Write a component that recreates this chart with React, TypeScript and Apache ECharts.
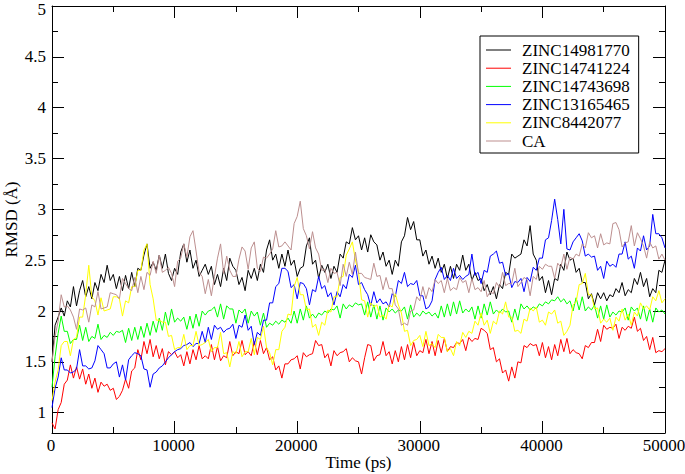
import React, { useEffect, useRef } from "react";
import * as echarts from "echarts";

const T_MAX = 50000;
const X_INTERVAL = 10000;
const Y_MIN = 0.8;
const Y_MAX = 5;
const Y_MAJOR = [1, 1.5, 2, 2.5, 3, 3.5, 4, 4.5, 5];
const Y_MINOR = [1.25, 1.75, 2.25, 2.75, 3.25, 3.75, 4.25, 4.75];

const SERIES_NAMES = ["ZINC14981770", "ZINC14741224", "ZINC14743698", "ZINC13165465", "ZINC8442077", "CA"];
const SERIES_COLORS = ["#000000", "#ff0000", "#00ff00", "#0000ff", "#ffff00", "#bc8f8f"];

// RMSD values sampled every 250 ps from 0 to 50000 ps
const zinc14981770 = [
  1.5,1.86,1.94,2.03,1.95,2.1,2.04,2.24,2.05,2.2,
  2.3,2.14,2.24,2.12,2.28,2.2,2.36,2.28,2.45,2.3,
  2.36,2.22,2.34,2.2,2.35,2.22,2.38,2.24,2.42,2.4,
  2.55,2.66,2.42,2.48,2.4,2.55,2.42,2.56,2.37,2.3,
  2.42,2.36,2.58,2.66,2.48,2.6,2.42,2.5,2.34,2.4,
  2.46,2.36,2.44,2.26,2.36,2.24,2.42,2.3,2.52,2.44,
  2.4,2.26,2.33,2.2,2.4,2.32,2.42,2.3,2.46,2.38,
  2.6,2.7,2.5,2.56,2.42,2.56,2.44,2.6,2.45,2.5,
  2.34,2.42,2.44,2.64,2.72,2.46,2.5,2.32,2.45,2.38,
  2.46,2.32,2.44,2.38,2.56,2.52,2.68,2.66,2.82,2.7,
  2.74,2.6,2.72,2.58,2.75,2.68,2.65,2.5,2.58,2.44,
  2.5,2.36,2.5,2.44,2.68,2.74,2.92,2.8,2.88,2.7,
  2.7,2.54,2.6,2.46,2.54,2.42,2.52,2.38,2.46,2.32,
  2.44,2.32,2.46,2.4,2.55,2.4,2.46,2.3,2.38,2.3,
  2.32,2.2,2.26,2.16,2.24,2.12,2.26,2.22,2.38,2.36,
  2.56,2.52,2.54,2.56,2.7,2.64,2.84,2.56,2.5,2.3,
  2.34,2.18,2.3,2.16,2.32,2.3,2.46,2.4,2.58,2.5,
  2.52,2.38,2.42,2.28,2.28,2.12,2.17,2.06,2.18,2.12,
  2.18,2.1,2.16,2.14,2.22,2.18,2.28,2.15,2.21,2.18,
  2.32,2.26,2.38,2.24,2.32,2.14,2.22,2.18,2.4,2.38,
  2.5,
];

const zinc14741224 = [
  0.9,0.84,1.03,1.1,1.28,1.32,1.47,1.34,1.45,1.33,
  1.43,1.28,1.38,1.24,1.34,1.2,1.3,1.26,1.28,1.22,
  1.24,1.13,1.16,1.22,1.33,1.24,1.41,1.44,1.62,1.52,
  1.7,1.58,1.72,1.55,1.66,1.53,1.63,1.47,1.6,1.57,
  1.6,1.54,1.57,1.46,1.6,1.48,1.62,1.52,1.66,1.53,
  1.56,1.53,1.67,1.52,1.65,1.51,1.56,1.54,1.7,1.56,
  1.6,1.58,1.71,1.57,1.6,1.56,1.7,1.57,1.71,1.58,
  1.64,1.52,1.55,1.42,1.46,1.34,1.48,1.48,1.52,1.53,
  1.56,1.43,1.59,1.55,1.57,1.58,1.71,1.66,1.67,1.54,
  1.58,1.46,1.61,1.56,1.59,1.6,1.63,1.5,1.54,1.51,
  1.5,1.38,1.54,1.67,1.66,1.51,1.56,1.57,1.7,1.56,
  1.6,1.48,1.61,1.5,1.65,1.52,1.67,1.54,1.69,1.56,
  1.61,1.59,1.72,1.58,1.7,1.56,1.71,1.59,1.73,1.6,
  1.65,1.64,1.69,1.68,1.72,1.61,1.74,1.7,1.73,1.72,
  1.83,1.81,1.78,1.62,1.64,1.5,1.53,1.39,1.42,1.31,
  1.45,1.34,1.5,1.49,1.66,1.64,1.68,1.66,1.67,1.56,
  1.69,1.54,1.65,1.52,1.67,1.56,1.72,1.6,1.73,1.58,
  1.62,1.59,1.58,1.53,1.66,1.64,1.69,1.69,1.82,1.7,
  1.86,1.82,1.84,1.83,1.87,1.73,1.84,1.81,1.85,1.83,
  1.94,1.8,1.83,1.71,1.75,1.62,1.74,1.59,1.61,1.6,
  1.63,
];

const zinc14743698 = [
  1.25,1.55,1.78,1.95,1.8,1.8,1.68,1.72,1.72,1.86,
  1.71,1.84,1.7,1.75,1.73,1.87,1.72,1.76,1.74,1.79,
  1.76,1.8,1.79,1.81,1.69,1.83,1.71,1.84,1.72,1.85,
  1.74,1.88,1.76,1.9,1.79,1.93,1.81,1.99,1.86,2.02,
  1.89,1.93,1.9,1.94,1.82,1.95,1.83,1.97,1.85,2.0,
  1.96,2.0,2.01,2.04,1.94,2.07,1.92,2.05,2.02,2.02,
  1.88,2.01,1.98,2.02,1.88,2.0,1.95,1.99,1.86,1.98,
  1.84,1.88,1.86,1.9,1.87,1.91,1.89,1.93,1.88,2.0,
  1.88,2.02,1.91,2.05,1.93,1.97,1.93,1.98,1.96,2.0,
  1.98,2.02,2.01,2.05,1.93,2.07,2.02,2.06,2.04,2.08,
  2.06,2.07,1.96,2.09,1.94,2.06,1.92,2.05,1.91,2.03,
  1.99,2.02,1.98,2.01,2.0,2.04,1.92,2.06,1.94,1.98,
  1.95,2.0,1.97,1.99,1.95,1.98,1.93,2.05,1.94,2.07,
  1.95,2.09,1.97,2.1,1.98,2.02,1.99,2.04,1.92,2.05,
  1.93,2.07,1.96,2.09,1.97,2.01,1.98,2.02,1.99,2.0,
  1.89,2.02,1.91,2.07,2.02,2.05,2.01,2.04,2.02,2.07,
  2.05,2.09,2.07,2.11,2.1,2.14,2.09,2.12,2.07,2.1,
  2.0,2.13,2.01,2.14,2.0,2.04,2.01,2.06,1.93,2.05,
  1.92,2.06,1.94,1.99,1.96,2.0,1.99,2.03,1.91,2.04,
  2.0,2.03,1.92,2.05,1.9,2.02,1.89,2.03,1.99,2.01,
  1.97,
];

const zinc13165465 = [
  1.05,1.24,1.35,1.54,1.42,1.42,1.39,1.4,1.43,1.62,
  1.46,1.46,1.43,1.44,1.51,1.66,1.62,1.58,1.44,1.44,
  1.48,1.5,1.35,1.47,1.32,1.52,1.56,1.59,1.58,1.56,
  1.43,1.42,1.25,1.38,1.4,1.44,1.46,1.5,1.54,1.57,
  1.6,1.62,1.63,1.66,1.67,1.69,1.65,1.68,1.68,1.8,
  1.69,1.84,1.72,1.86,1.82,1.84,1.79,1.82,1.83,1.87,
  1.73,1.86,1.84,1.96,1.81,1.85,1.67,1.79,1.76,1.91,
  1.91,2.08,2.08,2.24,2.27,2.42,2.42,2.39,2.23,2.26,
  2.12,2.28,2.27,2.22,2.06,2.21,2.19,2.34,2.22,2.25,
  2.14,2.18,2.06,2.19,2.14,2.26,2.22,2.36,2.33,2.45,
  2.26,2.28,2.21,2.16,2.05,2.19,2.08,2.12,2.07,2.09,
  2.04,2.17,2.14,2.3,2.27,2.38,2.24,2.27,2.26,2.3,
  2.15,2.15,2.02,2.04,2.1,2.31,2.38,2.43,2.31,2.35,
  2.3,2.42,2.32,2.35,2.31,2.34,2.36,2.56,2.35,2.38,
  2.27,2.4,2.38,2.54,2.56,2.59,2.47,2.48,2.35,2.37,
  2.23,2.29,2.28,2.32,2.19,2.33,2.29,2.43,2.4,2.52,
  2.52,2.7,2.72,2.89,3.1,2.9,2.66,3.0,2.61,2.6,
  2.68,2.72,2.76,2.69,2.54,2.56,2.53,2.54,2.4,2.44,
  2.32,2.49,2.44,2.46,2.43,2.56,2.56,2.68,2.51,2.54,
  2.42,2.62,2.59,2.74,2.6,2.64,2.95,2.76,2.76,2.72,
  2.62,
];

const zinc8442077 = [
  1.12,1.3,1.42,1.66,1.7,1.7,1.56,1.72,1.74,1.94,
  1.94,2.16,2.45,2.14,2.1,1.96,2.13,2.0,2.01,2.02,
  2.14,2.14,2.12,1.95,2.1,2.08,2.24,2.24,2.4,2.4,
  2.6,2.66,2.26,2.12,1.91,1.91,1.89,1.89,1.75,1.76,
  1.62,1.64,1.64,1.77,1.62,1.66,1.66,1.8,1.66,1.67,
  1.69,1.72,1.6,1.64,1.64,1.79,1.58,1.59,1.45,1.6,
  1.58,1.7,1.55,1.6,1.6,1.73,1.57,1.74,1.72,1.85,
  1.64,1.59,1.47,1.62,1.62,1.8,1.84,1.97,1.96,2.24,
  2.33,2.16,2.16,2.01,2.02,1.84,1.87,1.76,1.89,1.86,
  2.01,1.99,2.14,2.14,2.33,2.34,2.55,2.61,2.68,2.5,
  2.38,2.11,2.1,1.94,2.08,2.04,2.06,1.94,1.96,1.92,
  2.06,2.04,2.17,2.06,1.98,1.8,1.81,1.66,1.71,1.72,
  1.76,1.65,1.8,1.66,1.68,1.64,1.77,1.74,1.74,1.6,
  1.63,1.56,1.7,1.66,1.79,1.74,1.8,1.78,1.9,1.86,
  1.98,1.86,1.91,1.78,1.9,1.87,2.0,1.97,2.09,1.94,
  1.94,1.8,1.81,1.78,1.92,1.9,2.03,2.0,2.04,1.89,
  1.91,1.86,1.99,1.97,2.01,1.88,1.9,1.76,1.8,1.86,
  2.06,2.09,2.26,2.27,2.37,2.16,2.16,2.02,2.03,1.88,
  1.92,1.89,1.93,1.81,1.94,1.9,2.02,1.91,1.97,1.86,
  1.99,1.95,2.08,2.02,2.05,2.01,2.14,2.1,2.2,2.08,
  2.12,
];

const ca = [
  1.5,1.75,1.9,2.16,2.04,2.05,2.01,1.94,1.82,2.02,
  2.01,2.03,1.89,2.06,2.04,2.19,2.02,2.03,2.04,2.18,
  2.17,2.16,2.12,2.32,2.27,2.22,2.2,2.33,2.18,2.34,
  2.21,2.38,2.35,2.49,2.37,2.55,2.38,2.4,2.43,2.37,
  2.24,2.49,2.52,2.66,2.53,2.73,2.79,2.59,2.38,2.34,
  2.17,2.31,2.15,2.34,2.52,2.66,2.37,2.54,2.4,2.34,
  2.34,2.51,2.63,2.59,2.41,2.62,2.68,2.42,2.39,2.53,
  2.52,2.56,2.61,2.79,2.63,2.64,2.68,2.64,2.6,2.86,
  2.93,3.08,2.81,2.74,2.61,2.78,2.62,2.56,2.4,2.41,
  2.28,2.42,2.37,2.38,2.25,2.46,2.34,2.48,2.36,2.58,
  2.37,2.37,2.33,2.32,2.31,2.47,2.34,2.35,2.21,2.33,
  2.22,2.22,2.06,2.02,1.86,1.88,1.86,2.0,2.01,2.14,
  2.1,2.24,2.12,2.23,2.19,2.31,2.27,2.3,2.18,2.32,
  2.2,2.23,2.21,2.33,2.28,2.3,2.18,2.32,2.21,2.23,
  2.19,2.3,2.14,2.19,2.17,2.28,2.23,2.38,2.25,2.27,
  2.27,2.42,2.24,2.28,2.33,2.31,2.15,2.34,2.31,2.44,
  2.41,2.46,2.44,2.44,2.32,2.47,2.43,2.56,2.41,2.53,
  2.51,2.56,2.54,2.66,2.62,2.77,2.72,2.74,2.62,2.76,
  2.65,2.67,2.66,2.86,2.87,2.8,2.63,2.67,2.68,2.84,
  2.64,2.77,2.71,2.64,2.52,2.68,2.62,2.64,2.51,2.56,
  2.5,
];

const SERIES_VALUES = [zinc14981770, zinc14741224, zinc14743698, zinc13165465, zinc8442077, ca];

const FONT = "Liberation Serif";

function toPoints(values: number[]) {
  const step = T_MAX / (values.length - 1);
  return values.map((v, i) => [i * step, v]);
}

export default function App() {
  const ref = useRef<HTMLDivElement>(null);

  useEffect(() => {
    if (!ref.current) return;
    const chart = echarts.init(ref.current, undefined, { renderer: "svg" });

    const xBase = (position: string, withLabel: boolean) => ({
      type: "value",
      position,
      min: 0,
      max: T_MAX,
      interval: X_INTERVAL,
      axisLine: { show: true, onZero: false, lineStyle: { color: "#000", width: 1 } },
      axisTick: { show: true, inside: true, length: 12, lineStyle: { color: "#000", width: 1 } },
      minorTick: { show: true, splitNumber: 2, length: 6, lineStyle: { color: "#000", width: 1 } },
      axisLabel: {
        show: withLabel,
        color: "#000",
        fontFamily: FONT,
        fontSize: 17,
        margin: 4,
        padding: [0, 2, 0, 0],
        formatter: (v: number) => String(v),
      },
      splitLine: { show: false },
      minorSplitLine: { show: false },
      nameMoveOverlap: false,
    });

    const yBase = (position: string, ticks: number[], len: number, withLabel: boolean, showLine: boolean) => ({
      type: "value",
      position,
      min: Y_MIN,
      max: Y_MAX,
      axisLine: { show: showLine, onZero: false, lineStyle: { color: "#000", width: 1 } },
      axisTick: { show: true, inside: true, length: len, customValues: ticks, lineStyle: { color: "#000", width: 1 } },
      axisLabel: {
        show: withLabel,
        customValues: ticks,
        color: "#000",
        fontFamily: FONT,
        fontSize: 17,
        lineHeight: 12,
        margin: 6,
        formatter: (v: number) => (v === Y_MAX ? `{top|${v}}` : String(v)),
        rich: {
          top: { fontFamily: FONT, fontSize: 17, color: "#000", lineHeight: 12, padding: [6, 0, 0, 0] },
        },
      },
      splitLine: { show: false },
      nameMoveOverlap: false,
    });

    const option: any = {
      animation: false,
      backgroundColor: "#fff",
      grid: { left: 52, right: 20, top: 6, bottom: 41, containLabel: false, outerBoundsMode: "none" },
      legend: {
        orient: "vertical",
        left: 480,
        top: 36,
        padding: [5, 9, 3, 6],
        itemGap: 0.2,
        itemWidth: 25,
        itemHeight: 1,
        icon: "rect",
        borderColor: "#000",
        borderWidth: 1,
        backgroundColor: "#fff",
        textStyle: { fontFamily: FONT, fontSize: 17, color: "#000", lineHeight: 18, padding: [0, 0, 0, 6] },
        data: SERIES_NAMES,
      },
      xAxis: [
        {
          ...xBase("bottom", true),
          name: "Time (ps)",
          nameLocation: "middle",
          nameGap: 21,
          nameTextStyle: { fontFamily: FONT, fontSize: 17, color: "#000" },
        },
        xBase("top", false),
      ],
      yAxis: [
        {
          ...yBase("left", Y_MAJOR, 12, true, true),
          name: "RMSD (Å)",
          nameLocation: "middle",
          nameRotate: 90,
          nameGap: 32,
          nameTextStyle: { fontFamily: FONT, fontSize: 17, color: "#000" },
        },
        yBase("left", Y_MINOR, 6, false, false),
        yBase("right", Y_MAJOR, 12, false, true),
        yBase("right", Y_MINOR, 6, false, false),
      ],
      series: SERIES_NAMES.map((name, i) => ({
        name,
        type: "line",
        xAxisIndex: 0,
        yAxisIndex: 0,
        data: toPoints(SERIES_VALUES[i]),
        showSymbol: false,
        symbol: "none",
        lineStyle: { color: SERIES_COLORS[i], width: 1 },
        itemStyle: { color: SERIES_COLORS[i] },
        emphasis: { disabled: true },
        silent: true,
        z: 2 + i,
      })),
    };

    chart.setOption(option);
    return () => chart.dispose();
  }, []);

  return <div ref={ref} style={{ position: "absolute", left: 0, top: 0, width: 685, height: 474 }} />;
}
